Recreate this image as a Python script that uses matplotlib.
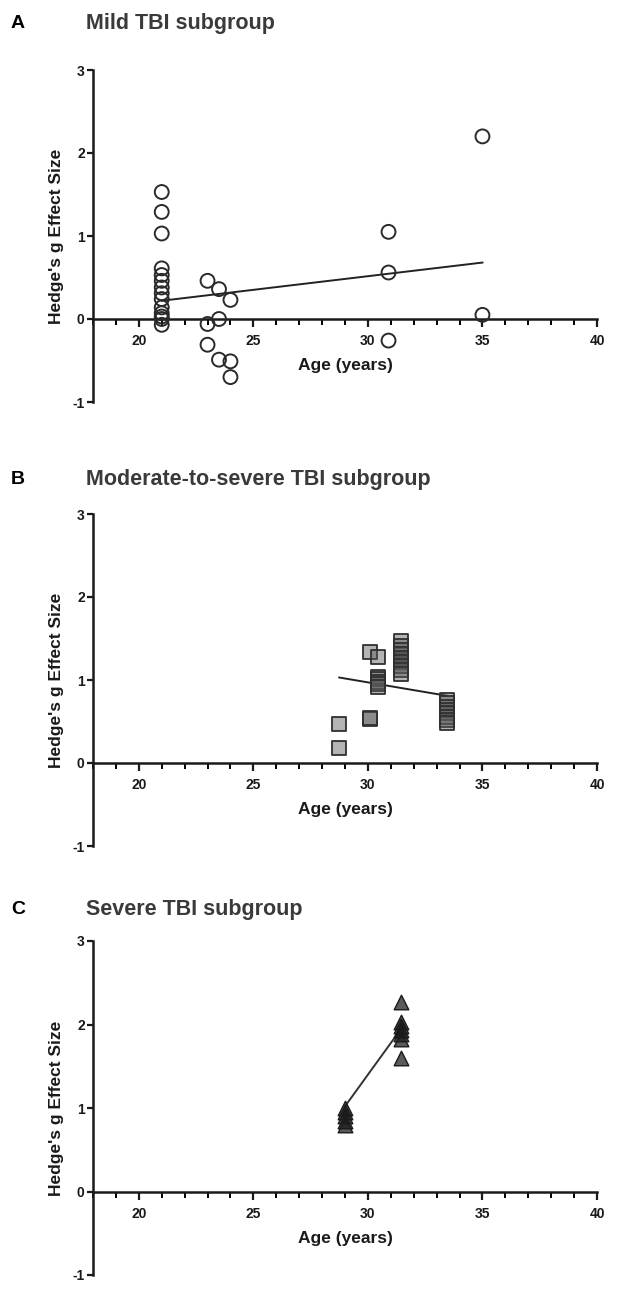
import matplotlib.pyplot as plt
from matplotlib.ticker import MultipleLocator

plt.rcParams['font.family'] = ['Liberation Sans', 'DejaVu Sans']
plt.rcParams['font.weight'] = 'bold'
plt.rcParams['axes.unicode_minus'] = False

# Panel A - mild TBI (age, Hedge's g)
mild_age = [21, 21, 21, 21, 21, 21, 21, 21, 21, 21, 21, 21, 21, 21,
            23, 23, 23, 23.5, 23.5, 23.5, 24, 24, 24,
            30.9, 30.9, 30.9, 35, 35]
mild_g = [1.53, 1.29, 1.03, 0.61, 0.53, 0.46, 0.38, 0.31, 0.24, 0.14, 0.07, 0.03, 0.0, -0.07,
          0.46, -0.06, -0.31, 0.36, 0.0, -0.49, 0.23, -0.51, -0.70,
          1.05, 0.56, -0.26, 2.20, 0.05]
mild_fit_x = [21, 35]
mild_fit_g = [0.22, 0.68]

# Panel B - moderate-to-severe TBI
modsev_age = [28.75, 28.75,
              30.1, 30.1, 30.1,
              30.45, 30.45, 30.45, 30.45, 30.45, 30.45,
              31.45, 31.45, 31.45, 31.45, 31.45, 31.45, 31.45, 31.45, 31.45,
              33.45, 33.45, 33.45, 33.45, 33.45, 33.45, 33.45, 33.45]
modsev_g = [0.47, 0.18,
            1.34, 0.53, 0.54,
            1.28, 1.04, 1.01, 0.98, 0.95, 0.92,
            1.47, 1.41, 1.36, 1.31, 1.27, 1.22, 1.17, 1.12, 1.07,
            0.76, 0.72, 0.68, 0.64, 0.60, 0.56, 0.52, 0.48]
modsev_fit_x = [28.75, 33.45]
modsev_fit_g = [1.03, 0.81]

# Panel C - severe TBI
severe_age = [29.0, 29.0, 29.0, 29.0, 29.0,
              31.45, 31.45, 31.45, 31.45, 31.45, 31.45, 31.45]
severe_g = [1.00, 0.95, 0.90, 0.85, 0.80,
            2.27, 2.03, 1.98, 1.94, 1.89, 1.83, 1.60]
severe_fit_x = [29.0, 31.4]
severe_fit_g = [1.02, 1.93]

panel_letters = ['A', 'B', 'C']
panel_titles = ['Mild TBI subgroup', 'Moderate-to-severe TBI subgroup', 'Severe TBI subgroup']

W, H = 630, 1294
fig = plt.figure(figsize=(W / 100, H / 100), dpi=100)


def px_axes(left, right, top, bottom):
    return fig.add_axes([left / W, 1 - bottom / H, (right - left) / W, (bottom - top) / H])


def style_axes(ax):
    ax.set_xlim(18, 40)
    ax.set_ylim(-1, 3)
    for s in ['top', 'right']:
        ax.spines[s].set_visible(False)
    ax.spines['bottom'].set_position(('data', 0))
    for s in ['left', 'bottom']:
        ax.spines[s].set_linewidth(1.8)
        ax.spines[s].set_color('#1a1a1a')
    ax.set_xticks([20, 25, 30, 35, 40])
    ax.xaxis.set_minor_locator(MultipleLocator(1))
    ax.set_yticks([-1, 0, 1, 2, 3])
    ax.tick_params(axis='x', which='major', length=6, width=1.6, pad=5,
                   labelsize=10, colors='#1a1a1a')
    ax.tick_params(axis='x', which='minor', length=4, width=1.4)
    ax.tick_params(axis='y', length=4, width=1.6, pad=2, labelsize=10, colors='#1a1a1a')
    for lab in ax.get_xticklabels() + ax.get_yticklabels():
        lab.set_fontweight('bold')
    ax.set_xlabel('Age (years)', fontsize=12.5, fontweight='bold', labelpad=7, color='#1a1a1a')
    ax.set_ylabel("Hedge's g Effect Size", fontsize=12.5, fontweight='bold', labelpad=6,
                  color='#1a1a1a')


axA = px_axes(93, 597, 70, 402)
axB = px_axes(93, 597, 514, 846)
axC = px_axes(93, 597, 941, 1275)

for ax in (axA, axB, axC):
    style_axes(ax)

# A: open circles
axA.plot(mild_fit_x, mild_fit_g, color='#222222', lw=1.4, zorder=2)
axA.scatter(mild_age, mild_g, s=100, facecolors='none', edgecolors='#2a2a2a',
            linewidths=1.4, zorder=3, clip_on=False)

# B: grey squares, translucent fill so overlaps darken
axB.plot(modsev_fit_x, modsev_fit_g, color='#222222', lw=1.4, zorder=2)
axB.scatter(modsev_age, modsev_g, s=100, marker='s', facecolors=(0.35, 0.35, 0.35, 0.45),
            edgecolors='#303030', linewidths=1.3, zorder=3, clip_on=False)

# C: dark triangles
axC.plot(severe_fit_x, severe_fit_g, color='#333333', lw=1.4, zorder=2)
axC.scatter(severe_age, severe_g, s=110, marker='^', facecolors=(0.1, 0.1, 0.1, 0.72),
            edgecolors='#1a1a1a', linewidths=1.0, zorder=3, clip_on=False)

# panel letters and titles
title_y = [24, 479, 910]
for letter, title, ty in zip(panel_letters, panel_titles, title_y):
    fig.text(11 / W, 1 - ty / H, letter, fontsize=14, fontweight='bold', color='black',
             ha='left', va='center')
    fig.text(86 / W, 1 - ty / H, title, fontsize=15.5, fontweight='bold', color='#3a3a3a',
             ha='left', va='center')

fig.savefig('out.png', dpi=100)
